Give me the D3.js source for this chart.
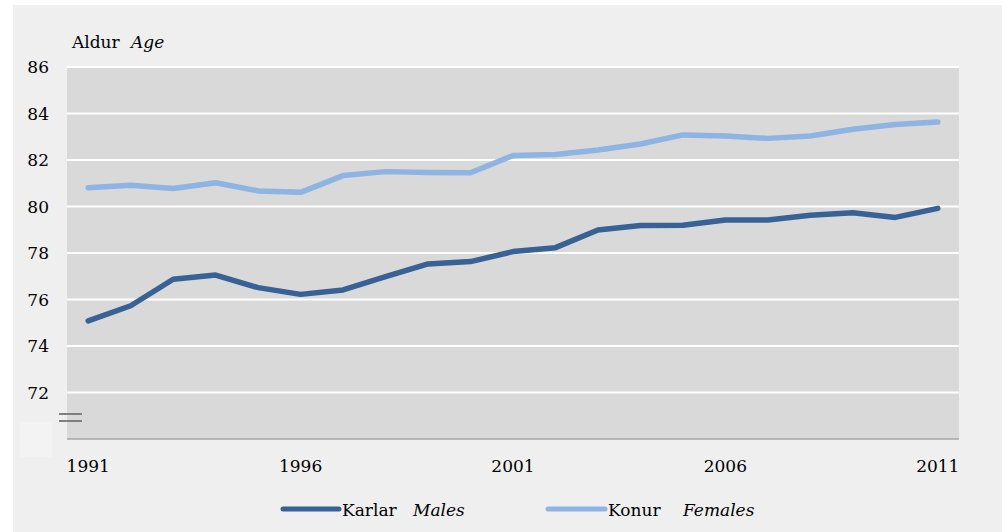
<!DOCTYPE html>
<html><head><meta charset="utf-8">
<script src="https://cdn.jsdelivr.net/npm/d3@7"></script>
<style>
html,body{margin:0;padding:0;background:#fff;}
svg{display:block;}
</style></head>
<body>
<svg id="chart" width="1002" height="532"></svg>
<script>
const years = d3.range(1991, 2012);
const males = [75.08,75.73,76.87,77.05,76.51,76.22,76.41,76.98,77.53,77.63,78.06,78.23,78.99,79.18,79.19,79.42,79.42,79.62,79.73,79.53,79.92];
const females = [80.81,80.91,80.77,81.02,80.67,80.61,81.33,81.50,81.46,81.45,82.19,82.24,82.43,82.69,83.08,83.03,82.93,83.03,83.32,83.53,83.63];
const yTicks = [72,74,76,78,80,82,84,86];
const xTickLabels = [1991,1996,2001,2006,2011];
const seriesNames = [["Karlar","Males"],["Konur","Females"]];
const colors = ["#386195","#8db4e2"];

const FONT = "'Liberation Serif', 'DejaVu Serif', serif";
const FS = 17;
const svg = d3.select("#chart").attr("font-family", "DejaVu Serif");
svg.append("rect").attr("x",13).attr("y",5).attr("width",1002-13).attr("height",532-5).attr("fill","#efefef");

const L=67, R=959, T=67, B=439;
const x = d3.scaleBand().domain(years).range([L,R]);
const cx = d => x(d) + x.bandwidth()/2;
const y = d3.scaleLinear().domain([70,86]).range([B,T]);

svg.append("rect").attr("x",L).attr("y",T).attr("width",R-L).attr("height",B-T).attr("fill","#d9d9d9");

svg.append("g").selectAll("line").data(yTicks).join("line")
  .attr("x1",L).attr("x2",R).attr("y1",d=>y(d)).attr("y2",d=>y(d))
  .attr("stroke","#ffffff").attr("stroke-width",2);
svg.append("line").attr("x1",L).attr("x2",R).attr("y1",B).attr("y2",B).attr("stroke","#a6a6a6").attr("stroke-width",1.5);

svg.append("g").selectAll("text").data(yTicks).join("text")
  .attr("x",49).attr("y",d=>y(d)).attr("dy","0.36em").attr("text-anchor","end")
  .attr("font-size",FS).attr("fill","#000").text(d=>d);

svg.append("g").selectAll("text").data(xTickLabels).join("text")
  .attr("x",d=>cx(d)).attr("y",472).attr("text-anchor","middle")
  .attr("font-size",FS).attr("fill","#000").text(d=>d);

svg.append("rect").attr("x",20).attr("y",422).attr("width",32).attr("height",35).attr("fill","#f3f3f3");
[414,421].forEach(yy=>svg.append("line").attr("x1",59).attr("x2",82).attr("y1",yy).attr("y2",yy).attr("stroke","#7f7f7f").attr("stroke-width",2));

svg.append("text").attr("x",72).attr("y",48).attr("font-size",FS).attr("fill","#000").text("Aldur");
svg.append("text").attr("x",131).attr("y",48).attr("font-size",FS).attr("font-style","italic").attr("fill","#000").text("Age");

const line = d3.line().x((d,i)=>cx(years[i])).y(d=>y(d));
[males,females].forEach((s,i)=>{
  svg.append("path").datum(s).attr("d",line).attr("fill","none")
    .attr("stroke",colors[i]).attr("stroke-width",5.5)
    .attr("stroke-linejoin","round").attr("stroke-linecap","round");
});

const leg = [{x1:283,x2:339,tx:342,ix:413},{x1:548,x2:605,tx:608,ix:683}];
leg.forEach((l,i)=>{
  svg.append("line").attr("x1",l.x1).attr("x2",l.x2).attr("y1",509).attr("y2",509)
    .attr("stroke",colors[i]).attr("stroke-width",5).attr("stroke-linecap","round");
  svg.append("text").attr("x",l.tx).attr("y",516).attr("font-size",FS).text(seriesNames[i][0]);
  svg.append("text").attr("x",l.ix).attr("y",516).attr("font-size",FS).attr("font-style","italic").text(seriesNames[i][1]);
});
</script>
</body></html>
